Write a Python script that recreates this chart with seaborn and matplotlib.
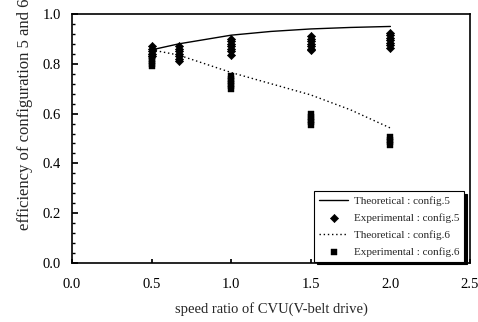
import matplotlib
matplotlib.use("Agg")
import matplotlib.pyplot as plt
from matplotlib.ticker import AutoMinorLocator
import seaborn as sns
import pandas as pd

# Theoretical curves
theo_x = [0.5, 0.67, 1.0, 1.25, 1.5, 1.75, 2.0]
theo5_y = [0.856, 0.880, 0.915, 0.930, 0.940, 0.946, 0.950]
theo6_y = [0.856, 0.835, 0.765, 0.720, 0.675, 0.615, 0.542]

# Experimental points (stacked measurements at each speed ratio)
exp5_x = [0.5] * 5 + [0.67] * 7 + [1.0] * 7 + [1.5] * 7 + [2.0] * 7
exp5_y = [0.87, 0.86, 0.85, 0.84, 0.83,
          0.87, 0.86, 0.85, 0.84, 0.83, 0.82, 0.81,
          0.90, 0.89, 0.88, 0.87, 0.86, 0.85, 0.835,
          0.91, 0.90, 0.89, 0.88, 0.87, 0.86, 0.855,
          0.925, 0.915, 0.905, 0.895, 0.885, 0.875, 0.865]
exp6_x = [0.5] * 5 + [1.0] * 6 + [1.5] * 5 + [2.0] * 4
exp6_y = [0.83, 0.82, 0.81, 0.80, 0.79,
          0.753, 0.74, 0.73, 0.72, 0.71, 0.697,
          0.597, 0.585, 0.575, 0.565, 0.553,
          0.505, 0.495, 0.485, 0.472]

labels = ["Theoretical : config.5", "Experimental : config.5",
          "Theoretical : config.6", "Experimental : config.6"]
xticks = [0.0, 0.5, 1.0, 1.5, 2.0, 2.5]
yticks = [0.0, 0.2, 0.4, 0.6, 0.8, 1.0]

sns.set_theme(style="ticks")
plt.rcParams["font.family"] = ["Liberation Serif", "DejaVu Serif"]

fig = plt.figure(figsize=(4.78, 3.22), dpi=100)
ax = fig.add_axes([72/478, 59/322, 398/478, 249/322])

df5 = pd.DataFrame({"x": theo_x, "y": theo5_y})
df6 = pd.DataFrame({"x": theo_x, "y": theo6_y})
e5 = pd.DataFrame({"x": exp5_x, "y": exp5_y})
e6 = pd.DataFrame({"x": exp6_x, "y": exp6_y})

sns.lineplot(data=df5, x="x", y="y", ax=ax, color="black", linewidth=1.0,
             label=labels[0], zorder=3)
sns.scatterplot(data=e5, x="x", y="y", ax=ax, color="black", marker="D",
                s=17, edgecolor="black", linewidth=0.5, label=labels[1], zorder=4)
sns.lineplot(data=df6, x="x", y="y", ax=ax, color="black", linewidth=1.0,
             linestyle=(0, (1, 2)), label=labels[2], zorder=3)
sns.scatterplot(data=e6, x="x", y="y", ax=ax, color="black", marker="s",
                s=24, edgecolor="black", linewidth=0.3, label=labels[3], zorder=4)

ax.set_xlim(0, 2.5)
ax.set_ylim(0, 1.0)
ax.set_xticks(xticks)
ax.set_xticklabels([f"{v:.1f}" for v in xticks])
ax.set_yticks(yticks)
ax.set_yticklabels([f"{v:.1f}" for v in yticks])
ax.yaxis.set_minor_locator(AutoMinorLocator(5))
ax.tick_params(axis="both", which="both", direction="in", labelsize=10.5,
               colors="black")
ax.tick_params(axis="x", which="major", length=3, pad=11)
ax.tick_params(axis="y", which="major", length=4, pad=8)
ax.tick_params(axis="y", which="minor", length=2)
for sp in ax.spines.values():
    sp.set_visible(True)
    sp.set_color("black")
    sp.set_linewidth(1.2)

ax.set_xlabel("speed ratio of CVU(V-belt drive)", fontsize=10.5, labelpad=8)
ax.set_ylabel("")
fig.text(25/478, (322-230)/322, "efficiency of configuration 5 and 6",
         rotation=90, ha="center", va="bottom", fontsize=12)

handles, labs = ax.get_legend_handles_labels()
leg = ax.legend(handles, labs, loc="lower right", bbox_to_anchor=(0.985, 0.006),
                borderaxespad=0, fontsize=8, frameon=True, fancybox=False,
                shadow={"color": "black", "alpha": 1.0}, edgecolor="black",
                framealpha=1.0, handlelength=2.6, handletextpad=0.5,
                labelspacing=0.65, borderpad=0.45)
leg.get_frame().set_linewidth(0.8)

fig.savefig("out.png", dpi=100)
